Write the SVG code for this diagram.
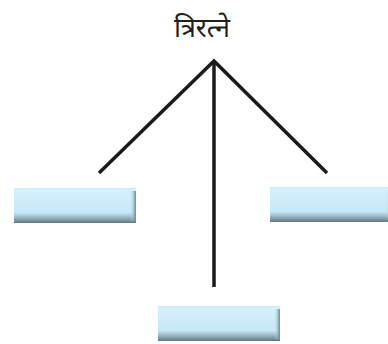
<svg xmlns="http://www.w3.org/2000/svg" width="388" height="344" viewBox="0 0 388 344">
<defs>
<linearGradient id="gB" x1="0" y1="0" x2="0" y2="1">
<stop offset="0" stop-color="#c8e9f8"/>
<stop offset="0.05" stop-color="#d6f0fb"/>
<stop offset="0.7" stop-color="#c6e8f8"/>
<stop offset="0.8" stop-color="#a9c6d2"/>
<stop offset="1" stop-color="#5f7883"/>
</linearGradient>
<linearGradient id="gR" x1="0" y1="0" x2="1" y2="0">
<stop offset="0" stop-color="#c6e8f8" stop-opacity="0"/>
<stop offset="1" stop-color="#6c8590"/>
</linearGradient>
<g id="box">
<rect x="0" y="0" width="122" height="35" fill="url(#gB)"/>
<rect x="116" y="3" width="6" height="30" fill="url(#gR)"/>
</g>
</defs>
<style>
.ln{stroke:#1a1a1a;stroke-width:3.5;fill:none;stroke-linecap:butt;stroke-linejoin:miter}
.t{font-family:"Noto Sans","Noto Sans Devanagari","Liberation Serif",sans-serif;font-size:27px;fill:#231f20}
</style>
<g id="title"><text class="t" x="202" y="37" text-anchor="middle">त्रिरत्ने</text></g>
<g id="connectors">
<polyline class="ln" points="99,173 214,61 327,173"/>
<line class="ln" x1="214" y1="61" x2="214" y2="287"/>
</g>
<g id="node-left"><use href="#box" x="14" y="188"/></g>
<g id="node-right"><use href="#box" x="270" y="187"/></g>
<g id="node-bottom"><use href="#box" x="158" y="306"/></g>
</svg>
